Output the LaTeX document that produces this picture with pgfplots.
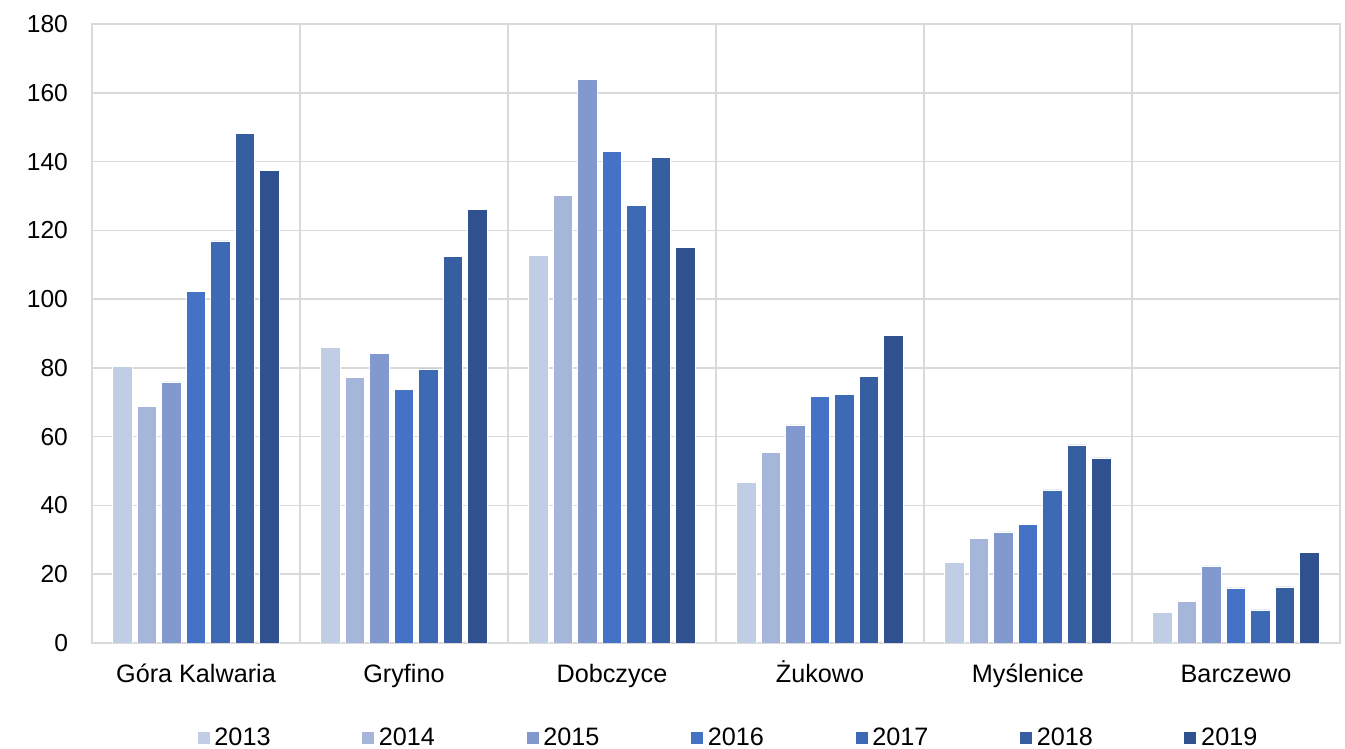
\documentclass[border=0pt]{standalone}
\usepackage{pgfplots}
\pgfplotsset{compat=1.18}
\usepackage{fontspec}
\setmainfont{Liberation Sans}
\definecolor{c13}{HTML}{C1CCE5}
\definecolor{c14}{HTML}{A6B5DA}
\definecolor{c15}{HTML}{8199CF}
\definecolor{c16}{HTML}{4472C4}
\definecolor{c17}{HTML}{3E6AB5}
\definecolor{c18}{HTML}{365EA1}
\definecolor{c19}{HTML}{2F5190}
\definecolor{gridc}{HTML}{D9D9D9}
\begin{document}
\begin{tikzpicture}
\useasboundingbox (-46pt,-53pt) rectangle (626.5pt,321.5pt);
\begin{axis}[
  scale only axis,
  width=624pt, height=309.5pt,
  ybar=2.45pt, bar width=9.8pt,
  xmin=-0.5, xmax=5.5, ymin=0, ymax=180,
  xtick={0,1,2,3,4,5},
  xticklabels={Góra Kalwaria,Gryfino,Dobczyce,Żukowo,Myślenice,Barczewo},
  minor xtick={0.5,1.5,2.5,3.5,4.5},
  ytick={0,20,...,180},
  xminorgrids, ymajorgrids,
  major tick length=0pt, minor tick length=0pt,
  grid style={gridc, line width=0.75pt},
  minor grid style={gridc, line width=0.75pt},
  axis line style={gridc, line width=0.75pt},
  tick label style={font=\fontsize{12.3}{14.5}\selectfont, black},
  /pgf/number format/assume math mode=true,
  yticklabel style={xshift=-8.5pt},
  xticklabel style={yshift=-7pt, text height=9pt, text depth=2.5pt, font=\fontsize{12.6}{15}\selectfont},
  legend columns=7,
  legend style={at={(0.5,-47.5pt)}, anchor=center, xshift=6.5pt, draw=none, fill=none,
    font=\fontsize{12.6}{15}\selectfont,
    /tikz/every even column/.append style={column sep=43.3pt}},
  legend image code/.code={\fill[#1] (0pt,-3.25pt) rectangle (6.5pt,3.25pt);},
  every axis plot/.append style={draw=white, line width=0.4pt},
]
\addplot[fill=c13] coordinates {(0,80.5) (1,86.0) (2,112.8) (3,46.8) (4,23.3) (5,9.0)};
\addplot[fill=c14] coordinates {(0,68.9) (1,77.3) (2,130.2) (3,55.5) (4,30.5) (5,12.2)};
\addplot[fill=c15] coordinates {(0,75.9) (1,84.3) (2,164.0) (3,63.4) (4,32.3) (5,22.4)};
\addplot[fill=c16] coordinates {(0,102.3) (1,73.8) (2,143.0) (3,71.8) (4,34.6) (5,16.0)};
\addplot[fill=c17] coordinates {(0,116.9) (1,79.7) (2,127.3) (3,72.4) (4,44.5) (5,9.6)};
\addplot[fill=c18] coordinates {(0,148.3) (1,112.5) (2,141.3) (3,77.6) (4,57.6) (5,16.3)};
\addplot[fill=c19] coordinates {(0,137.5) (1,126.2) (2,115.1) (3,89.5) (4,53.8) (5,26.2)};
\legend{2013,2014,2015,2016,2017,2018,2019}
\end{axis}
\end{tikzpicture}
\end{document}
